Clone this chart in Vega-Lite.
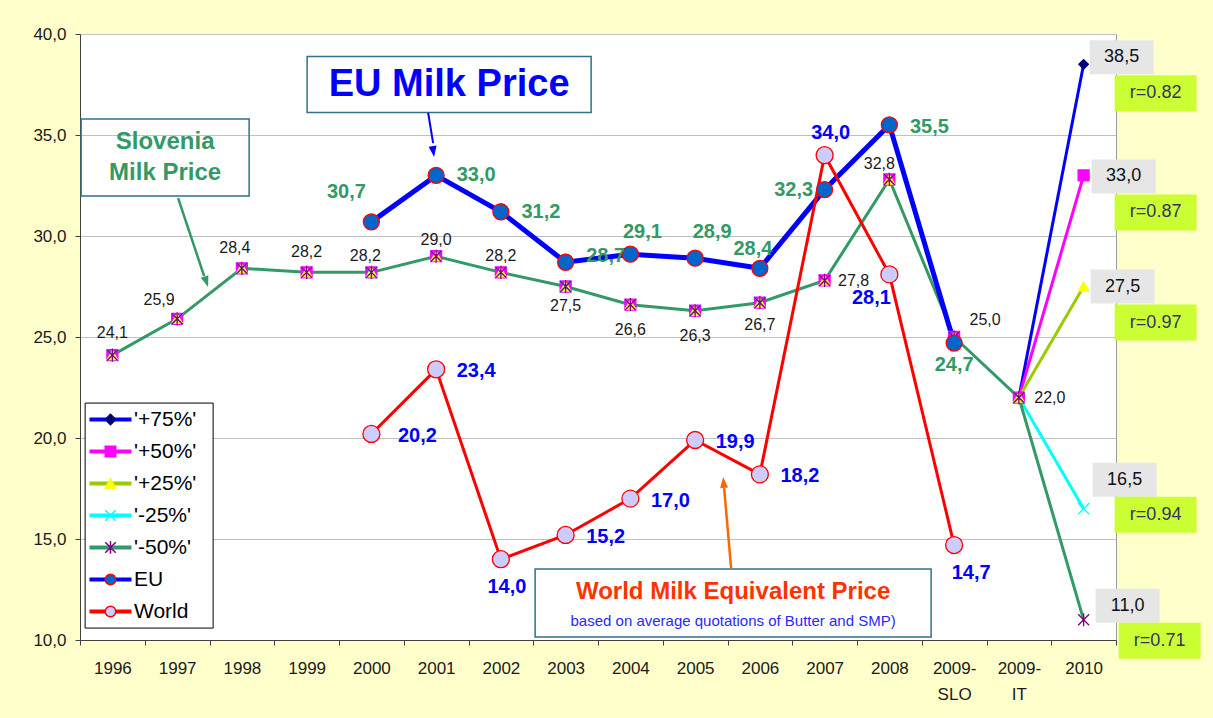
{
  "$schema": "https://vega.github.io/schema/vega-lite/v6.json",
  "width": 1036,
  "height": 606,
  "autosize": {"type": "none"},
  "padding": {"left": 80, "top": 34, "right": 97, "bottom": 78},
  "background": "#FFFFCC",
  "config": {
    "font": "Liberation Sans",
    "locale": {"number": {"decimal": ",", "thousands": ".", "grouping": [3], "currency": ["", " €"]}},
    "view": {"stroke": "#999999", "fill": "#FFFFFF"},
    "axis": {"labelFont": "Liberation Sans", "labelFontSize": 17, "labelColor": "#1a1a1a", "domainColor": "#404040", "tickColor": "#404040", "tickSize": 5, "title": null}
  },
  "data": {"values": [
    {"s": "'+75%'", "x": "1996", "v": 24.1}, {"s": "'+75%'", "x": "1997", "v": 25.9}, {"s": "'+75%'", "x": "1998", "v": 28.4}, {"s": "'+75%'", "x": "1999", "v": 28.2}, {"s": "'+75%'", "x": "2000", "v": 28.2}, {"s": "'+75%'", "x": "2001", "v": 29.0}, {"s": "'+75%'", "x": "2002", "v": 28.2}, {"s": "'+75%'", "x": "2003", "v": 27.5}, {"s": "'+75%'", "x": "2004", "v": 26.6}, {"s": "'+75%'", "x": "2005", "v": 26.3}, {"s": "'+75%'", "x": "2006", "v": 26.7}, {"s": "'+75%'", "x": "2007", "v": 27.8}, {"s": "'+75%'", "x": "2008", "v": 32.8}, {"s": "'+75%'", "x": "2009-SLO", "v": 25.0}, {"s": "'+75%'", "x": "2009-IT", "v": 22.0}, {"s": "'+75%'", "x": "2010", "v": 38.5, "r": "r=0.82"},
    {"s": "'+50%'", "x": "1996", "v": 24.1}, {"s": "'+50%'", "x": "1997", "v": 25.9}, {"s": "'+50%'", "x": "1998", "v": 28.4}, {"s": "'+50%'", "x": "1999", "v": 28.2}, {"s": "'+50%'", "x": "2000", "v": 28.2}, {"s": "'+50%'", "x": "2001", "v": 29.0}, {"s": "'+50%'", "x": "2002", "v": 28.2}, {"s": "'+50%'", "x": "2003", "v": 27.5}, {"s": "'+50%'", "x": "2004", "v": 26.6}, {"s": "'+50%'", "x": "2005", "v": 26.3}, {"s": "'+50%'", "x": "2006", "v": 26.7}, {"s": "'+50%'", "x": "2007", "v": 27.8}, {"s": "'+50%'", "x": "2008", "v": 32.8}, {"s": "'+50%'", "x": "2009-SLO", "v": 25.0}, {"s": "'+50%'", "x": "2009-IT", "v": 22.0}, {"s": "'+50%'", "x": "2010", "v": 33.0, "r": "r=0.87"},
    {"s": "'+25%'", "x": "1996", "v": 24.1}, {"s": "'+25%'", "x": "1997", "v": 25.9}, {"s": "'+25%'", "x": "1998", "v": 28.4}, {"s": "'+25%'", "x": "1999", "v": 28.2}, {"s": "'+25%'", "x": "2000", "v": 28.2}, {"s": "'+25%'", "x": "2001", "v": 29.0}, {"s": "'+25%'", "x": "2002", "v": 28.2}, {"s": "'+25%'", "x": "2003", "v": 27.5}, {"s": "'+25%'", "x": "2004", "v": 26.6}, {"s": "'+25%'", "x": "2005", "v": 26.3}, {"s": "'+25%'", "x": "2006", "v": 26.7}, {"s": "'+25%'", "x": "2007", "v": 27.8}, {"s": "'+25%'", "x": "2008", "v": 32.8}, {"s": "'+25%'", "x": "2009-SLO", "v": 25.0}, {"s": "'+25%'", "x": "2009-IT", "v": 22.0}, {"s": "'+25%'", "x": "2010", "v": 27.5, "r": "r=0.97"},
    {"s": "'-25%'", "x": "1996", "v": 24.1}, {"s": "'-25%'", "x": "1997", "v": 25.9}, {"s": "'-25%'", "x": "1998", "v": 28.4}, {"s": "'-25%'", "x": "1999", "v": 28.2}, {"s": "'-25%'", "x": "2000", "v": 28.2}, {"s": "'-25%'", "x": "2001", "v": 29.0}, {"s": "'-25%'", "x": "2002", "v": 28.2}, {"s": "'-25%'", "x": "2003", "v": 27.5}, {"s": "'-25%'", "x": "2004", "v": 26.6}, {"s": "'-25%'", "x": "2005", "v": 26.3}, {"s": "'-25%'", "x": "2006", "v": 26.7}, {"s": "'-25%'", "x": "2007", "v": 27.8}, {"s": "'-25%'", "x": "2008", "v": 32.8}, {"s": "'-25%'", "x": "2009-SLO", "v": 25.0}, {"s": "'-25%'", "x": "2009-IT", "v": 22.0}, {"s": "'-25%'", "x": "2010", "v": 16.5, "r": "r=0.94"},
    {"s": "'-50%'", "x": "1996", "v": 24.1}, {"s": "'-50%'", "x": "1997", "v": 25.9}, {"s": "'-50%'", "x": "1998", "v": 28.4}, {"s": "'-50%'", "x": "1999", "v": 28.2}, {"s": "'-50%'", "x": "2000", "v": 28.2}, {"s": "'-50%'", "x": "2001", "v": 29.0}, {"s": "'-50%'", "x": "2002", "v": 28.2}, {"s": "'-50%'", "x": "2003", "v": 27.5}, {"s": "'-50%'", "x": "2004", "v": 26.6}, {"s": "'-50%'", "x": "2005", "v": 26.3}, {"s": "'-50%'", "x": "2006", "v": 26.7}, {"s": "'-50%'", "x": "2007", "v": 27.8}, {"s": "'-50%'", "x": "2008", "v": 32.8}, {"s": "'-50%'", "x": "2009-SLO", "v": 25.0}, {"s": "'-50%'", "x": "2009-IT", "v": 22.0}, {"s": "'-50%'", "x": "2010", "v": 11.0, "r": "r=0.71"},
    {"s": "EU", "x": "2000", "v": 30.7}, {"s": "EU", "x": "2001", "v": 33.0}, {"s": "EU", "x": "2002", "v": 31.2}, {"s": "EU", "x": "2003", "v": 28.7}, {"s": "EU", "x": "2004", "v": 29.1}, {"s": "EU", "x": "2005", "v": 28.9}, {"s": "EU", "x": "2006", "v": 28.4}, {"s": "EU", "x": "2007", "v": 32.3}, {"s": "EU", "x": "2008", "v": 35.5}, {"s": "EU", "x": "2009-SLO", "v": 24.7},
    {"s": "World", "x": "2000", "v": 20.2}, {"s": "World", "x": "2001", "v": 23.4}, {"s": "World", "x": "2002", "v": 14.0}, {"s": "World", "x": "2003", "v": 15.2}, {"s": "World", "x": "2004", "v": 17.0}, {"s": "World", "x": "2005", "v": 19.9}, {"s": "World", "x": "2006", "v": 18.2}, {"s": "World", "x": "2007", "v": 34.0}, {"s": "World", "x": "2008", "v": 28.1}, {"s": "World", "x": "2009-SLO", "v": 14.7}
  ]},
  "layer": [
    {
      "encoding": {
        "x": {"field": "x", "type": "nominal",
          "scale": {"type": "band", "domain": ["1996", "1997", "1998", "1999", "2000", "2001", "2002", "2003", "2004", "2005", "2006", "2007", "2008", "2009-SLO", "2009-IT", "2010"], "paddingInner": 0, "paddingOuter": 0},
          "axis": {"title": null, "labelAngle": 0, "tickBand": "extent", "labelPadding": 15, "labelLineHeight": 26, "grid": false, "labelExpr": "datum.label == '2009-SLO' ? ['2009-', 'SLO'] : datum.label == '2009-IT' ? ['2009-', 'IT'] : datum.label"}},
        "y": {"field": "v", "type": "quantitative",
          "scale": {"domain": [10, 40], "nice": false, "zero": false},
          "axis": {"title": null, "values": [10, 15, 20, 25, 30, 35, 40], "format": ".1f", "grid": true, "gridColor": "#C0C0C0", "labelPadding": 9}}
      },
      "layer": [
        {
          "layer": [
            {
              "transform": [{"filter": "indexof(datum.s, '%') >= 0 && indexof(datum.s, '-50') < 0 && (datum.x == '2009-IT' || datum.x == '2010')"}],
              "mark": {"type": "line", "strokeWidth": 3},
              "encoding": {
                "stroke": {"field": "s", "type": "nominal",
                  "scale": {"domain": ["'+75%'", "'+50%'", "'+25%'", "'-25%'", "'-50%'", "EU", "World"], "range": ["#0000FF", "#FF00FF", "#99CC00", "#00FFFF", "#339966", "#0000FF", "#FF0000"]},
                  "legend": {"orient": "none", "legendX": 5, "legendY": 369, "zindex": 1, "title": null, "symbolType": "M-4.2,0H4.2", "symbolSize": 100, "symbolStrokeWidth": 4, "labelFont": "Liberation Sans", "labelFontSize": 21, "labelColor": "#000000", "rowPadding": 10, "padding": 6, "symbolOffset": 9, "labelOffset": 13}},
                "order": {"value": null}
              }
            },
            {
              "transform": [{"filter": "indexof(datum.s, '-50') >= 0"}],
              "mark": {"type": "line", "strokeWidth": 3},
              "encoding": {
                "stroke": {"field": "s", "type": "nominal", "scale": {"domain": ["'+75%'", "'+50%'", "'+25%'", "'-25%'", "'-50%'", "EU", "World"], "range": ["#0000FF", "#FF00FF", "#99CC00", "#00FFFF", "#339966", "#0000FF", "#FF0000"]}},
                "order": {"value": null}
              }
            },
            {
              "transform": [{"filter": "datum.s == 'EU'"}],
              "mark": {"type": "line", "strokeWidth": 5},
              "encoding": {
                "stroke": {"field": "s", "type": "nominal", "scale": {"domain": ["'+75%'", "'+50%'", "'+25%'", "'-25%'", "'-50%'", "EU", "World"], "range": ["#0000FF", "#FF00FF", "#99CC00", "#00FFFF", "#339966", "#0000FF", "#FF0000"]}},
                "order": {"value": null}
              }
            },
            {
              "transform": [{"filter": "datum.s == 'World'"}],
              "mark": {"type": "line", "strokeWidth": 3},
              "encoding": {
                "stroke": {"field": "s", "type": "nominal", "scale": {"domain": ["'+75%'", "'+50%'", "'+25%'", "'-25%'", "'-50%'", "EU", "World"], "range": ["#0000FF", "#FF00FF", "#99CC00", "#00FFFF", "#339966", "#0000FF", "#FF0000"]}},
                "order": {"value": null}
              }
            }
          ]
        },
        {
          "mark": {"type": "point", "filled": true, "opacity": 1, "strokeWidth": 1.3},
          "encoding": {
            "shape": {"field": "s", "type": "nominal",
              "scale": {"domain": ["'+75%'", "'+50%'", "'+25%'", "'-25%'", "'-50%'", "EU", "World", "~"], "range": ["diamond", "square", "triangle-up", "M-1,-1L1,1M1,-1L-1,1", "M-1,-1L1,1M1,-1L-1,1M0,-1.2V1.2", "circle", "circle", "circle"]},
              "legend": {"orient": "none", "legendX": 5, "legendY": 369, "zindex": 2, "values": ["'+75%'", "'+50%'", "'+25%'", "'-25%'", "'-50%'", "EU", "World"], "title": null, "symbolSize": 110, "symbolStrokeWidth": 1.5, "labelFont": "Liberation Sans", "labelFontSize": 21, "labelOpacity": 0, "rowPadding": 10, "padding": 6, "symbolOffset": 9, "labelOffset": 13}},
            "fill": {"field": "s", "type": "nominal",
              "scale": {"domain": ["'+75%'", "'+50%'", "'+25%'", "'-25%'", "'-50%'", "EU", "World", "~"], "range": ["#000080", "#FF00FF", "#FFFF00", "#00FFFF", "#800080", "#0066CC", "#CCCCFF", "#FFFFFF"]}},
            "stroke": {"field": "s", "type": "nominal",
              "scale": {"domain": ["'+75%'", "'+50%'", "'+25%'", "'-25%'", "'-50%'", "EU", "World", "~"], "range": ["#000080", "#FF00FF", "#FFFF00", "#00FFFF", "#800080", "#FF0000", "#FF0000", "#FFFFFF"]}},
            "size": {"field": "s", "type": "nominal",
              "scale": {"type": "ordinal", "domain": ["EU", "World", "'+75%'", "'+50%'", "'+25%'", "'-25%'", "'-50%'"], "range": [256, 289, 90, 120, 110, 130, 120]}, "legend": null}
          }
        },
        {
          "transform": [{"filter": "indexof(datum.s, '-50') >= 0 && datum.x != '2010'"}],
          "mark": {"type": "text", "font": "Liberation Sans", "fontSize": 16, "color": "#1a1a1a",
            "dx": {"expr": "datum.x == '1997' ? -18 : datum.x == '1998' ? -7 : datum.x == '2000' ? -6 : datum.x == '2007' ? 29 : datum.x == '2008' ? -10 : datum.x == '2009-SLO' ? 31 : datum.x == '2009-IT' ? 31 : 0"},
            "dy": {"expr": "datum.x == '1996' ? -22 : datum.x == '1997' ? -19 : (datum.x == '1998' || datum.x == '1999') ? -20 : datum.x == '2003' ? 19 : (datum.x == '2004' || datum.x == '2005') ? 25 : datum.x == '2006' ? 22 : datum.x == '2007' ? 1 : datum.x == '2008' ? -15 : datum.x == '2009-SLO' ? -17 : datum.x == '2009-IT' ? 0 : -16"}},
          "encoding": {"text": {"field": "v", "type": "quantitative", "format": ".1f"}}
        },
        {
          "transform": [{"filter": "datum.s == 'EU'"}],
          "mark": {"type": "text", "font": "Liberation Sans", "fontSize": 20, "fontWeight": "bold", "color": "#339966",
            "dx": {"expr": "datum.x == '2000' ? -25 : datum.x == '2004' ? 12 : datum.x == '2005' ? 17 : datum.x == '2006' ? -7 : datum.x == '2007' ? -31 : datum.x == '2009-SLO' ? 0 : 40"},
            "dy": {"expr": "datum.x == '2000' ? -30 : datum.x == '2003' ? -6 : datum.x == '2004' ? -22 : datum.x == '2005' ? -26 : datum.x == '2006' ? -19 : datum.x == '2009-SLO' ? 22 : datum.x == '2008' ? 2 : 0"}},
          "encoding": {"text": {"field": "v", "type": "quantitative", "format": ".1f"}}
        },
        {
          "transform": [{"filter": "datum.s == 'World'"}],
          "mark": {"type": "text", "font": "Liberation Sans", "fontSize": 20, "fontWeight": "bold", "color": "#0000FF",
            "dx": {"expr": "datum.x == '2000' ? 46 : datum.x == '2002' ? 6 : datum.x == '2007' ? 6 : datum.x == '2008' ? -18 : datum.x == '2009-SLO' ? 17 : 40"},
            "dy": {"expr": "datum.x == '2002' ? 28 : datum.x == '2007' ? -22 : datum.x == '2008' ? 24 : datum.x == '2009-SLO' ? 28 : 2"}},
          "encoding": {"text": {"field": "v", "type": "quantitative", "format": ".1f"}}
        },
        {
          "transform": [{"filter": "datum.x == '2010'"}],
          "mark": {"type": "point", "shape": "M-32,-17H32V17H-32Z", "size": 4, "filled": true, "fill": "#E6E6E6", "strokeWidth": 0, "opacity": 1,
            "xOffset": {"expr": "indexof(datum.s, '+75') >= 0 ? 38 : indexof(datum.s, '+50') >= 0 ? 40 : indexof(datum.s, '+25') >= 0 ? 39 : indexof(datum.s, '-25') >= 0 ? 41 : 44"},
            "yOffset": {"expr": "indexof(datum.s, '+75') >= 0 ? -7 : indexof(datum.s, '+50') >= 0 ? 1 : indexof(datum.s, '+25') >= 0 ? 0 : indexof(datum.s, '-25') >= 0 ? -29 : -14"}}
        },
        {
          "transform": [{"filter": "datum.x == '2010'"}],
          "mark": {"type": "text", "font": "Liberation Sans", "fontSize": 18, "color": "#111111",
            "dx": {"expr": "indexof(datum.s, '+75') >= 0 ? 38 : indexof(datum.s, '+50') >= 0 ? 40 : indexof(datum.s, '+25') >= 0 ? 39 : indexof(datum.s, '-25') >= 0 ? 41 : 44"},
            "dy": {"expr": "indexof(datum.s, '+75') >= 0 ? -7 : indexof(datum.s, '+50') >= 0 ? 1 : indexof(datum.s, '+25') >= 0 ? 0 : indexof(datum.s, '-25') >= 0 ? -29 : -14"}},
          "encoding": {"text": {"field": "v", "type": "quantitative", "format": ".1f"}}
        },
        {
          "transform": [{"filter": "datum.x == '2010'"}],
          "mark": {"type": "point", "shape": "M-41,-18H41V18H-41Z", "size": 4, "filled": true, "fill": "#CCFF33", "strokeWidth": 0, "opacity": 1,
            "xOffset": {"expr": "indexof(datum.s, '-50') >= 0 ? 76 : 72"},
            "yOffset": {"expr": "indexof(datum.s, '+75') >= 0 ? 29 : indexof(datum.s, '+50') >= 0 ? 37 : indexof(datum.s, '+25') >= 0 ? 36 : indexof(datum.s, '-25') >= 0 ? 6 : 21"}}
        },
        {
          "transform": [{"filter": "datum.x == '2010'"}],
          "mark": {"type": "text", "font": "Liberation Sans", "fontSize": 18, "color": "#333366",
            "dx": {"expr": "indexof(datum.s, '-50') >= 0 ? 76 : 72"},
            "dy": {"expr": "indexof(datum.s, '+75') >= 0 ? 29 : indexof(datum.s, '+50') >= 0 ? 37 : indexof(datum.s, '+25') >= 0 ? 36 : indexof(datum.s, '-25') >= 0 ? 6 : 21"}},
          "encoding": {"text": {"field": "r", "type": "nominal"}}
        }
      ],
      "resolve": {
        "scale": {"stroke": "independent", "fill": "independent", "shape": "independent", "size": "independent"},
        "legend": {"stroke": "independent", "fill": "independent", "shape": "independent", "size": "independent"}
      }
    },
    {
      "data": {"values": [{}]},
      "mark": {"type": "point", "shape": "M-64,-112.5H64V112.5H-64Z", "size": 4, "filled": true, "fill": "#FFFFFF", "stroke": "#000000", "strokeWidth": 1, "opacity": 1, "xOffset": -28},
      "encoding": {"x": {"datum": "1997", "type": "nominal"}, "y": {"datum": 16.16, "type": "quantitative"}}
    },
    {
      "data": {"values": [{}]},
      "mark": {"type": "point", "shape": "M-142,-28H142V28H-142Z", "size": 4, "filled": true, "fill": "#FFFFFF", "stroke": "#31708F", "strokeWidth": 1.5, "opacity": 1, "xOffset": 13},
      "encoding": {"x": {"datum": "2001", "type": "nominal"}, "y": {"datum": 37.5, "type": "quantitative"}}
    },
    {
      "data": {"values": [{}]},
      "mark": {"type": "text", "text": "EU Milk Price", "font": "Liberation Sans", "fontSize": 38, "fontWeight": "bold", "color": "#0000FF", "dx": 13},
      "encoding": {"x": {"datum": "2001", "type": "nominal"}, "y": {"datum": 37.5, "type": "quantitative"}}
    },
    {
      "data": {"values": [{}]},
      "mark": {"type": "rule", "color": "#0000FF", "strokeWidth": 2, "xOffset": -8, "x2Offset": -3},
      "encoding": {"x": {"datum": "2001", "type": "nominal"}, "x2": {"datum": "2001"}, "y": {"datum": 36.1, "type": "quantitative"}, "y2": {"datum": 34.6}}
    },
    {
      "data": {"values": [{}]},
      "mark": {"type": "point", "shape": "M0,0L-4,-11L4,-11Z", "size": 4, "filled": true, "fill": "#0000FF", "strokeWidth": 0, "opacity": 1, "angle": 352, "xOffset": -2},
      "encoding": {"x": {"datum": "2001", "type": "nominal"}, "y": {"datum": 33.91, "type": "quantitative"}}
    },
    {
      "data": {"values": [{}]},
      "mark": {"type": "point", "shape": "M-84,-38.5H84V38.5H-84Z", "size": 4, "filled": false, "stroke": "#31708F", "strokeWidth": 1.5, "opacity": 1, "xOffset": -12},
      "encoding": {"x": {"datum": "1997", "type": "nominal"}, "y": {"datum": 33.89, "type": "quantitative"}}
    },
    {
      "data": {"values": [{}]},
      "mark": {"type": "text", "text": ["Slovenia", "Milk Price"], "lineHeight": 31, "font": "Liberation Sans", "fontSize": 24, "fontWeight": "bold", "color": "#339966", "dx": -12, "dy": -15},
      "encoding": {"x": {"datum": "1997", "type": "nominal"}, "y": {"datum": 33.89, "type": "quantitative"}}
    },
    {
      "data": {"values": [{}]},
      "mark": {"type": "rule", "color": "#339966", "strokeWidth": 2.5, "xOffset": 1, "x2Offset": 27},
      "encoding": {"x": {"datum": "1997", "type": "nominal"}, "x2": {"datum": "1997"}, "y": {"datum": 31.88, "type": "quantitative"}, "y2": {"datum": 28.02}}
    },
    {
      "data": {"values": [{}]},
      "mark": {"type": "point", "shape": "M0,0L-4,-11L4,-11Z", "size": 4, "filled": true, "fill": "#339966", "strokeWidth": 0, "opacity": 1, "angle": 341, "xOffset": 31},
      "encoding": {"x": {"datum": "1997", "type": "nominal"}, "y": {"datum": 27.48, "type": "quantitative"}}
    },
    {
      "data": {"values": [{}]},
      "mark": {"type": "point", "shape": "M-198,-34H198V34H-198Z", "size": 4, "filled": true, "fill": "#FFFFFF", "stroke": "#31708F", "strokeWidth": 1.5, "opacity": 1, "xOffset": 38},
      "encoding": {"x": {"datum": "2005", "type": "nominal"}, "y": {"datum": 11.83, "type": "quantitative"}}
    },
    {
      "data": {"values": [{}]},
      "mark": {"type": "text", "text": "World Milk Equivalent Price", "font": "Liberation Sans", "fontSize": 24, "fontWeight": "bold", "color": "#FF3300", "dx": 38, "dy": -11},
      "encoding": {"x": {"datum": "2005", "type": "nominal"}, "y": {"datum": 11.83, "type": "quantitative"}}
    },
    {
      "data": {"values": [{}]},
      "mark": {"type": "text", "text": "based on average quotations of Butter and SMP)", "font": "Liberation Sans", "fontSize": 15, "color": "#2929FF", "dx": 38, "dy": 18},
      "encoding": {"x": {"datum": "2005", "type": "nominal"}, "y": {"datum": 11.83, "type": "quantitative"}}
    },
    {
      "data": {"values": [{}]},
      "mark": {"type": "rule", "color": "#FF6600", "strokeWidth": 2.5, "xOffset": 36, "x2Offset": 29},
      "encoding": {"x": {"datum": "2005", "type": "nominal"}, "x2": {"datum": "2005"}, "y": {"datum": 13.56, "type": "quantitative"}, "y2": {"datum": 17.52}}
    },
    {
      "data": {"values": [{}]},
      "mark": {"type": "point", "shape": "M0,0L-4,11L4,11Z", "size": 4, "filled": true, "fill": "#FF6600", "strokeWidth": 0, "opacity": 1, "angle": 355, "xOffset": 28},
      "encoding": {"x": {"datum": "2005", "type": "nominal"}, "y": {"datum": 18.07, "type": "quantitative"}}
    }
  ]
}
